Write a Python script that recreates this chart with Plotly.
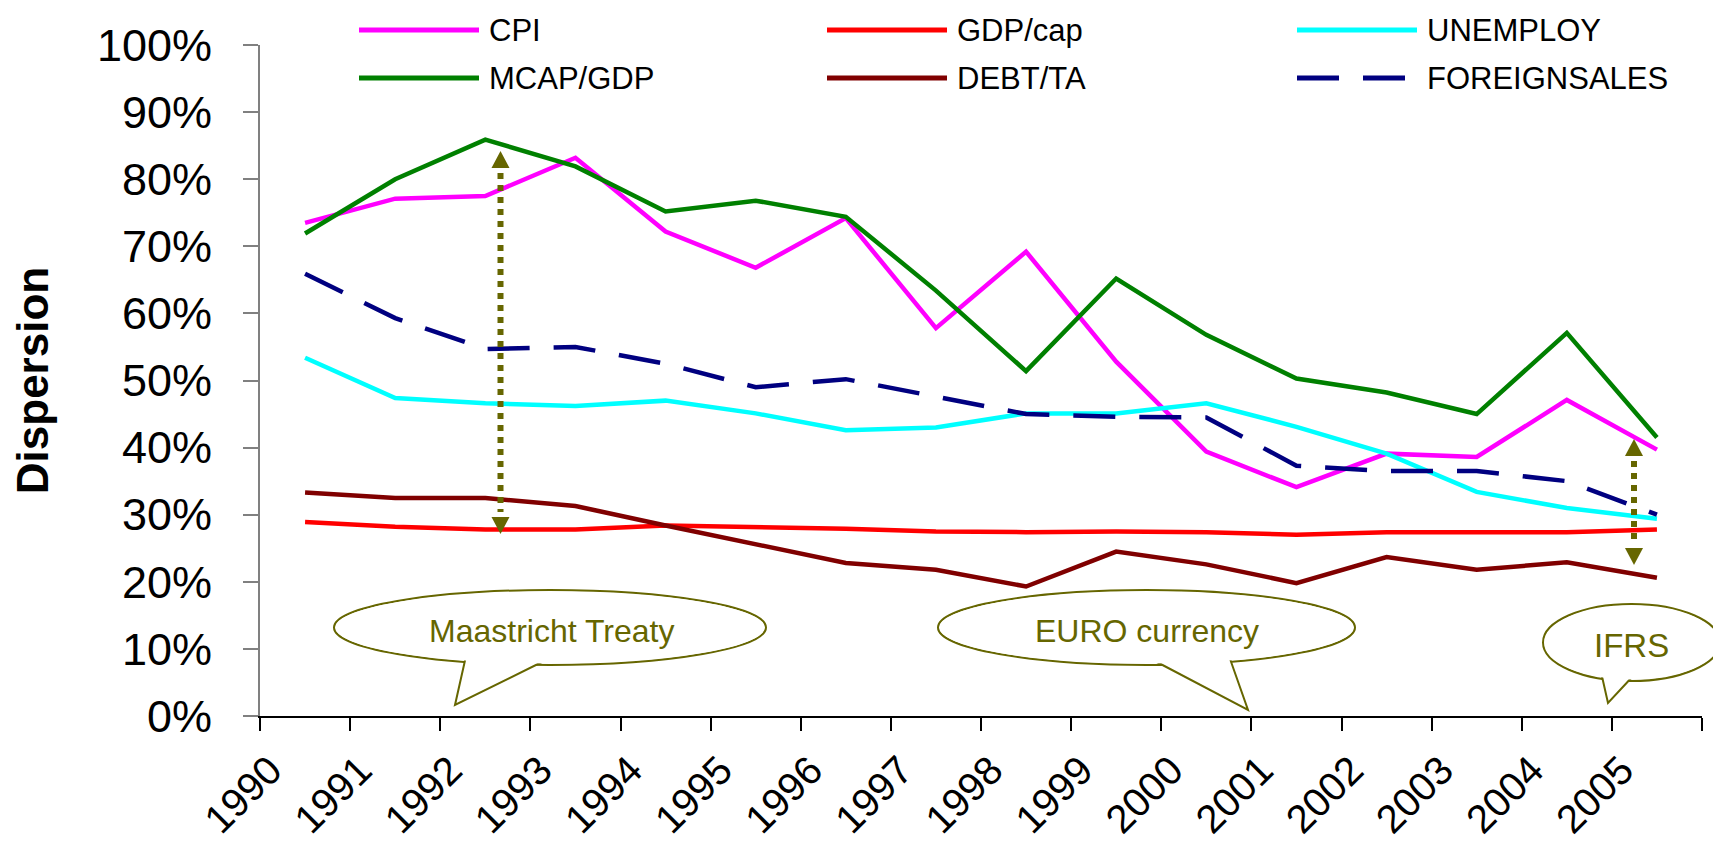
import plotly.graph_objects as go

# Dispersion per year, in percent
years = list(range(1990, 2006))
cpi = [73.5, 77.1, 77.5, 83.2, 72.2, 66.8, 74.2, 57.8, 69.2, 52.8, 39.4, 34.1, 39.1, 38.6, 47.1, 39.7]
gdp_cap = [28.9, 28.2, 27.8, 27.8, 28.4, 28.2, 27.9, 27.5, 27.4, 27.5, 27.4, 27.0, 27.4, 27.4, 27.4, 27.8]
unemploy = [53.4, 47.4, 46.6, 46.2, 47.0, 45.1, 42.6, 43.0, 45.1, 45.1, 46.6, 43.1, 39.1, 33.4, 31.0, 29.4]
mcap_gdp = [71.9, 80.0, 85.9, 81.9, 75.2, 76.8, 74.4, 63.4, 51.4, 65.2, 56.8, 50.3, 48.2, 45.0, 57.1, 41.5]
debt_ta = [33.3, 32.5, 32.5, 31.3, 28.4, 25.6, 22.8, 21.8, 19.3, 24.5, 22.6, 19.8, 23.7, 21.8, 22.9, 20.6]
foreign_sales = [65.9, 59.3, 54.7, 55.0, 52.5, 49.0, 50.2, 47.6, 45.0, 44.6, 44.5, 37.3, 36.5, 36.5, 35.0, 30.0]

series = [
    ("CPI", cpi, "#FF00FF", "solid"),
    ("GDP/cap", gdp_cap, "#FF0000", "solid"),
    ("UNEMPLOY", unemploy, "#00FFFF", "solid"),
    ("MCAP/GDP", mcap_gdp, "#008000", "solid"),
    ("DEBT/TA", debt_ta, "#800000", "solid"),
    ("FOREIGNSALES", foreign_sales, "#000080", "42px,24px"),
]

y_ticks = list(range(0, 101, 10))
y_tick_text = [f"{v}%" for v in y_ticks]

OLIVE = "#666600"
FONT = "Liberation Sans, Arial, sans-serif"

W, H = 1721, 846
L, R, T, B = 252, 27, 37, 138
PW = W - L - R
PH = H - T - B


def px(x):
    return (x - L) / PW


def py(y):
    return (H - B - y) / PH


fig = go.Figure()

for name, values, color, dash in series:
    fig.add_trace(
        go.Scatter(
            x=years,
            y=values,
            name=name,
            mode="lines",
            line=dict(color=color, width=4.5, dash=dash),
            showlegend=False,
        )
    )

shapes = []
annotations = []

# hand-made legend, 3 columns x 2 rows, long line samples like the original
legend_cols = [351, 819, 1289]
legend_rows = [22, 70]
for i, (name, values, color, dash) in enumerate(series):
    cx = legend_cols[i % 3]
    ry = legend_rows[i // 3]
    shapes.append(dict(
        type="line", xref="paper", yref="paper",
        x0=px(cx), x1=px(cx + 120 if dash == "solid" else cx + 108),
        y0=py(ry), y1=py(ry),
        line=dict(color=color, width=5, dash=dash),
    ))
    annotations.append(dict(
        text=name, xref="paper", yref="paper",
        x=px(cx + 128), y=py(ry), xanchor="left", yanchor="middle",
        showarrow=False, font=dict(family=FONT, size=31, color="black"),
    ))


def callout(text, box, tail, center, size):
    x0, x1, y0, y1 = box
    shapes.append(dict(
        type="circle", xref="paper", yref="paper", layer="above",
        x0=px(x0), x1=px(x1), y0=py(y1), y1=py(y0),
        line=dict(color=OLIVE, width=2), fillcolor="white",
    ))
    (bx0, by0), (tx, ty), (bx1, by1) = tail
    shapes.append(dict(
        type="path", xref="paper", yref="paper", layer="above",
        path=f"M{px(bx0)},{py(by0 - 5)} L{px(tx)},{py(ty)} L{px(bx1)},{py(by1 - 5)}",
        line=dict(color=OLIVE, width=2), fillcolor="white",
    ))
    shapes.append(dict(
        type="circle", xref="paper", yref="paper", layer="above",
        x0=px(x0 + 1.5), x1=px(x1 - 1.5), y0=py(y1 - 1.5), y1=py(y0 + 1.5),
        line=dict(width=0), fillcolor="white",
    ))
    annotations.append(dict(
        text=text, xref="paper", yref="paper",
        x=px(center[0]), y=py(center[1]), xanchor="center", yanchor="middle",
        showarrow=False, font=dict(family=FONT, size=size, color=OLIVE),
    ))


callout("Maastricht Treaty", (326, 758, 582, 657), ((458, 653), (447, 697), (538, 657)), (543, 623), 32)
callout("EURO currency", (930, 1347, 582, 657), ((1145, 657), (1240, 702), (1221, 653)), (1139, 623), 32)
callout("IFRS", (1535, 1712, 596, 673), ((1593, 669), (1600, 695), (1626, 672)), (1623, 637), 33)


def double_arrow(x, top, bottom):
    hh, hw = 17, 9
    shapes.append(dict(
        type="line", xref="paper", yref="paper", layer="above",
        x0=px(x), x1=px(x), y0=py(top + hh + 5), y1=py(bottom - hh - 5),
        line=dict(color=OLIVE, width=6, dash="6px,6px"),
    ))
    for tip, base in ((top, top + hh), (bottom, bottom - hh)):
        shapes.append(dict(
            type="path", xref="paper", yref="paper", layer="above",
            path=f"M{px(x)},{py(tip)} L{px(x - hw)},{py(base)} L{px(x + hw)},{py(base)} Z",
            line=dict(width=0), fillcolor=OLIVE,
        ))


double_arrow(492.5, 143, 526)
double_arrow(1626, 431, 557)

fig.update_layout(
    width=W,
    height=H,
    margin=dict(l=L, r=R, t=T, b=B),
    paper_bgcolor="white",
    plot_bgcolor="white",
    font=dict(family=FONT, color="black"),
    showlegend=False,
    shapes=shapes,
    annotations=annotations,
)

fig.update_xaxes(
    range=[years[0] - 0.5, years[-1] + 0.5],
    tickmode="array",
    tickvals=[y - 0.5 for y in years] + [years[-1] + 0.5],
    ticktext=[str(y) for y in years] + [""],
    tickangle=-45,
    tickfont=dict(size=40),
    ticks="outside",
    ticklen=13,
    tickwidth=1.5,
    tickcolor="black",
    ticklabelshift=10,
    showline=True,
    linecolor="black",
    linewidth=1.5,
    showgrid=False,
    zeroline=False,
    automargin=False,
)

fig.update_yaxes(
    range=[0, 100],
    tickmode="array",
    tickvals=y_ticks,
    ticktext=y_tick_text,
    tickfont=dict(size=45),
    ticks="outside",
    ticklen=15,
    tickwidth=1.5,
    tickcolor="#808080",
    ticklabelstandoff=22,
    showline=True,
    linecolor="#808080",
    linewidth=2,
    showgrid=False,
    zeroline=False,
    automargin=False,
    title=dict(text="Dispersion", font=dict(size=44, weight="bold"), standoff=36),
)

fig.write_html("out.html")
